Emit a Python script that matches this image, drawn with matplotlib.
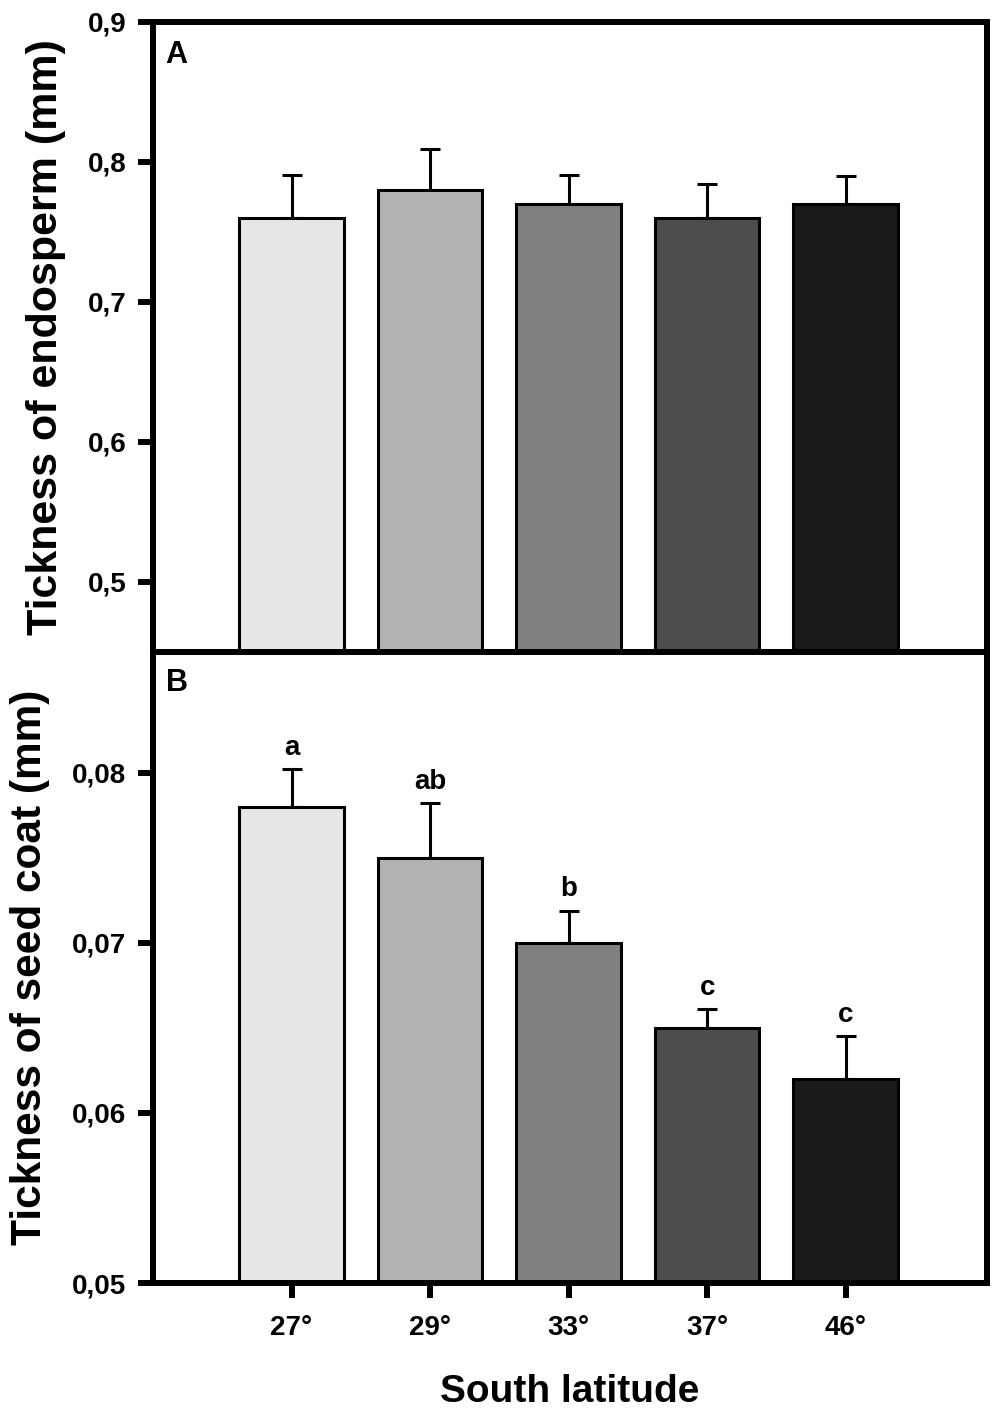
import matplotlib
matplotlib.use("Agg")
import matplotlib.pyplot as plt
import numpy as np

plt.rcParams['font.family'] = ['Liberation Sans', 'DejaVu Sans']
plt.rcParams['font.weight'] = 'bold'

# data
latitudes = ["27°", "29°", "33°", "37°", "46°"]
endosperm = [0.76, 0.78, 0.77, 0.76, 0.77]
endosperm_err = [0.031, 0.029, 0.021, 0.024, 0.020]
seed_coat = [0.078, 0.075, 0.070, 0.065, 0.062]
seed_coat_err = [0.0022, 0.0032, 0.0019, 0.0011, 0.0025]
letters = ["a", "ab", "b", "c", "c"]

bar_colors = ["#e6e6e6", "#b3b3b3", "#808080", "#4d4d4d", "#1a1a1a"]
pos = np.arange(1, len(latitudes) + 1)

fig = plt.figure(figsize=(10, 14.18), dpi=100)
ax_a = fig.add_axes([0.153, 0.5402, 0.834, 0.4443])
ax_b = fig.add_axes([0.153, 0.0952, 0.834, 0.4450])


def draw_panel(ax, vals, errs):
    ax.bar(pos, vals, width=0.755, color=bar_colors, edgecolor="black",
           linewidth=2.2, zorder=2)
    ax.errorbar(pos, vals, yerr=[np.zeros(len(errs)), errs], fmt="none",
                ecolor="black", elinewidth=2.2, capsize=7.5, capthick=2.2,
                zorder=1)
    ax.set_xlim(0, 6.02)
    for s in ax.spines.values():
        s.set_linewidth(4.3)
    ax.tick_params(axis="y", direction="out", length=11, width=4.3,
                   labelsize=20, pad=8)


# panel A
draw_panel(ax_a, endosperm, endosperm_err)
ax_a.set_ylim(0.45, 0.9)
ax_a.set_yticks([0.5, 0.6, 0.7, 0.8, 0.9])
ax_a.set_yticklabels(["0,5", "0,6", "0,7", "0,8", "0,9"])
ax_a.set_xticks([])
ax_a.set_ylabel("Tickness of endosperm (mm)", fontsize=31, fontweight="bold",
                labelpad=16)
ax_a.text(0.015, 0.971, "A", transform=ax_a.transAxes, fontsize=22,
          fontweight="bold", va="top", ha="left")

# panel B
draw_panel(ax_b, seed_coat, seed_coat_err)
ax_b.set_ylim(0.05, 0.0871)
ax_b.set_yticks([0.05, 0.06, 0.07, 0.08])
ax_b.set_yticklabels(["0,05", "0,06", "0,07", "0,08"])
ax_b.set_xticks(pos)
ax_b.set_xticklabels(latitudes)
ax_b.tick_params(axis="x", direction="out", length=11, width=4.3,
                 labelsize=20, pad=12)
ax_b.set_ylabel("Tickness of seed coat (mm)", fontsize=30.5, fontweight="bold",
                labelpad=16)
ax_b.set_xlabel("South latitude", fontsize=28, fontweight="bold", labelpad=24)
ax_b.text(0.015, 0.974, "B", transform=ax_b.transAxes, fontsize=22,
          fontweight="bold", va="top", ha="left")

for x, v, e, lt in zip(pos, seed_coat, seed_coat_err, letters):
    ax_b.annotate(lt, (x, v + e), xytext=(0, 6), textcoords="offset points",
                  ha="center", va="bottom", fontsize=20, fontweight="bold")

fig.savefig("out.png", dpi=100)
